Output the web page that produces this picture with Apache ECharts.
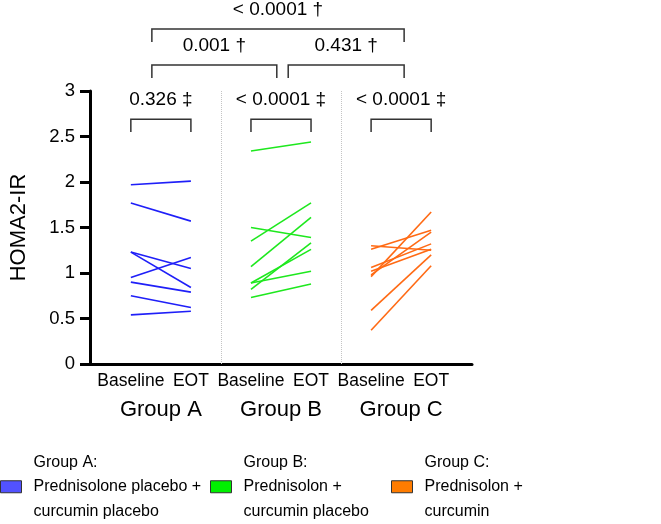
<!DOCTYPE html>
<html><head><meta charset="utf-8">
<script src="https://cdn.jsdelivr.net/npm/echarts@6/dist/echarts.min.js"></script>
<style>html,body{margin:0;padding:0;background:#fff}#c{width:661px;height:524px}</style>
</head><body><div id="c"></div>
<script>
// ---- data ----
const groupNames = ['Group A', 'Group B', 'Group C'];
const timeLabels = ['Baseline', 'EOT', 'Baseline', 'EOT', 'Baseline', 'EOT'];
const yTickLabels = ['0', '0.5', '1', '1.5', '2', '2.5', '3'];
const groupA_baseline = [1.97, 1.77, 1.23, 1.23, 0.95, 0.90, 0.75, 0.54];
const groupA_eot      = [2.01, 1.57, 1.05, 0.84, 1.17, 0.79, 0.62, 0.58];
const groupB_baseline = [2.34, 1.35, 1.50, 1.07, 0.82, 0.89, 0.89, 0.73];
const groupB_eot      = [2.44, 1.77, 1.39, 1.61, 1.33, 1.26, 1.02, 0.88];
const groupC_baseline = [1.30, 1.26, 1.06, 1.02, 0.98, 0.96, 0.59, 0.37];
const groupC_eot      = [1.25, 1.47, 1.32, 1.26, 1.45, 1.67, 1.20, 1.08];
const withinP  = ['0.326 ‡', '< 0.0001 ‡', '< 0.0001 ‡'];
const betweenP = ['0.001 †', '0.431 †', '< 0.0001 †'];
const legendLabels = [
  'Group A:\nPrednisolone placebo +\ncurcumin placebo',
  'Group B:\nPrednisolon +\ncurcumin placebo',
  'Group C:\nPrednisolon +\ncurcumin'
];
const yAxisTitle = 'HOMA2-IR';

// ---- styling ----
const FONT = '"Liberation Sans", Arial, Helvetica, sans-serif';
const lineColors = ['#1f1ff8', '#1ee81e', '#ff6a14'];
const legendColors = ['#5252ff', '#00f000', '#ff7c00'];

const chart = echarts.init(document.getElementById('c'), null, {renderer: 'canvas'});
const groupsData = [[groupA_baseline, groupA_eot], [groupB_baseline, groupB_eot], [groupC_baseline, groupC_eot]];
const series = [];
groupsData.forEach((g, gi) => {
  g[0].forEach((b, i) => {
    series.push({
      type: 'line', name: groupNames[gi], xAxisIndex: 0, yAxisIndex: 0,
      data: [[gi * 2, b], [gi * 2 + 1, g[1][i]]],
      symbol: 'none', silent: true, animation: false, z: 3,
      lineStyle: {color: lineColors[gi], width: 1.6},
      itemStyle: {color: legendColors[gi]}
    });
  });
});
series[0].markLine = {
  silent: true, symbol: 'none', label: {show: false}, animation: false,
  lineStyle: {color: '#c4c4c4', type: 'dotted', width: 1},
  data: [{xAxis: 1.5}, {xAxis: 3.5}]
};

const legendLeft = [0, 210, 391];
const option = {
  animation: false,
  backgroundColor: '#fff',
  grid: {left: 88, right: 189, top: 91, bottom: 160, containLabel: false},
  xAxis: [{
    type: 'value', min: -0.68, max: 5.68,
    axisLine: {show: true, onZero: false, lineStyle: {color: '#000', width: 3}},
    axisTick: {show: false}, splitLine: {show: false},
    axisLabel: {customValues: [0, 1, 2, 3, 4, 5], formatter: v => timeLabels[Math.round(v)], fontSize: 17.5, fontFamily: FONT, color: '#000', margin: 8}
  }, {
    type: 'value', min: -0.68, max: 5.68, position: 'bottom',
    axisLine: {show: false, onZero: false}, axisTick: {show: false}, splitLine: {show: false},
    axisLabel: {customValues: [0.5, 2.5, 4.5], formatter: v => groupNames[Math.round((v - 0.5) / 2)], fontSize: 22, fontFamily: FONT, color: '#000', margin: 35}
  }],
  yAxis: {
    type: 'value', min: 0, max: 3, interval: 0.5,
    name: yAxisTitle, nameLocation: 'middle', nameGap: 60,
    nameTextStyle: {fontSize: 22, fontFamily: FONT, color: '#000'},
    axisLine: {show: true, onZero: false, lineStyle: {color: '#000', width: 3}},
    axisTick: {show: true, length: 10, lineStyle: {color: '#000', width: 3}},
    splitLine: {show: false},
    axisLabel: {formatter: v => yTickLabels[Math.round(v * 2)], fontSize: 18.5, fontFamily: FONT, color: '#000', margin: 15}
  },
  legend: groupNames.map((n, i) => ({
    data: [{name: n, icon: 'rect', itemStyle: {color: legendColors[i], borderColor: '#333', borderWidth: 1}}],
    left: legendLeft[i], top: 450, padding: 0, itemWidth: 21, itemHeight: 12, itemGap: 0,
    selectedMode: false,
    formatter: () => legendLabels[i],
    textStyle: {fontSize: 16, lineHeight: 24.5, fontFamily: FONT, color: '#000', padding: [0, 0, 0, 7]}
  })),
  series: series
};
chart.setOption(option);

// annotations (brackets + p-values) placed through the chart's own scales
function px(x, y) { return chart.convertToPixel({xAxisIndex: 0, yAxisIndex: 0}, [x, y]); }
const graphics = [];
function bracket(x1, x2, yTop, yLeg) {
  graphics.push({type: 'polyline', silent: true,
    shape: {points: [px(x1, yLeg), px(x1, yTop), px(x2, yTop), px(x2, yLeg)]},
    style: {stroke: '#333', lineWidth: 1.5, fill: null}});
}
function label(x, y, t) {
  const p = px(x, y);
  graphics.push({type: 'text', silent: true, x: p[0], y: p[1],
    style: {text: t, fontSize: 19, fontFamily: FONT, fill: '#000', align: 'center', verticalAlign: 'middle'}});
}
for (let g = 0; g < 3; g++) {
  bracket(g * 2, g * 2 + 1, 2.69, 2.55);
  label(g * 2 + 0.5, 2.90, withinP[g]);
}
bracket(0.35, 2.43, 3.286, 3.143); label(1.39, 3.495, betweenP[0]);
bracket(2.62, 4.55, 3.286, 3.143); label(3.585, 3.495, betweenP[1]);
bracket(0.35, 4.55, 3.681, 3.538); label(2.45, 3.89, betweenP[2]);
chart.setOption({graphic: graphics});
</script>
</body></html>
